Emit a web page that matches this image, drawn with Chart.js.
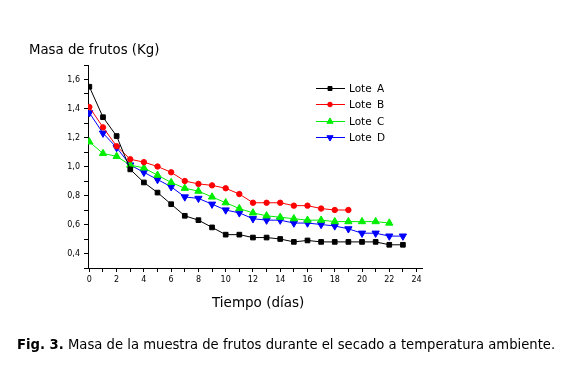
<!DOCTYPE html>
<html><head><meta charset="utf-8">
<script src="https://cdn.jsdelivr.net/npm/chart.js@4.4.0/dist/chart.umd.min.js"></script>
<style>
html,body{margin:0;padding:0;background:#fff;width:568px;height:372px;overflow:hidden;font-family:"DejaVu Sans",Verdana,sans-serif;}
#wrap{position:absolute;left:0;top:0;width:568px;height:372px;}
.t{position:absolute;white-space:nowrap;color:#000;}
</style></head>
<body>
<div id="wrap"><canvas id="c" width="568" height="372"></canvas></div>
<div class="t" id="ytitle" style="left:29px;top:42px;font-size:13.3px;">Masa de frutos (Kg)</div>
<div class="t" id="xtitle" style="left:212px;top:294px;font-size:13.5px;">Tiempo (días)</div>
<div class="t" id="cap" style="left:17px;top:337px;font-size:13.2px;"><b>Fig. 3.</b> Masa de la muestra de frutos durante el secado a temperatura ambiente.</div>
<script>
const days = [0,1,2,3,4,5,6,7,8,9,10,11,12,13,14,15,16,17,18,19,20,21,22,23];
const loteA = [1.55,1.34,1.21,0.98,0.89,0.82,0.74,0.66,0.63,0.58,0.53,0.53,0.51,0.51,0.50,0.48,0.49,0.48,0.48,0.48,0.48,0.48,0.46,0.46];
const loteB = [1.41,1.27,1.14,1.05,1.03,1.00,0.96,0.90,0.88,0.87,0.85,0.81,0.75,0.75,0.75,0.73,0.73,0.71,0.70,0.70];
const loteC = [1.17,1.09,1.07,1.01,0.99,0.94,0.89,0.85,0.83,0.79,0.75,0.71,0.68,0.66,0.65,0.64,0.63,0.63,0.62,0.62,0.62,0.62,0.61];
const loteD = [1.37,1.23,1.13,1.01,0.96,0.91,0.86,0.79,0.78,0.74,0.70,0.68,0.64,0.63,0.63,0.61,0.61,0.60,0.59,0.57,0.54,0.54,0.52,0.52];
const names = ['Lote A','Lote B','Lote C','Lote D'];
const xTickLabels = [0,2,4,6,8,10,12,14,16,18,20,22,24];
const yTickLabels = ['0,4','0,6','0,8','1,0','1,2','1,4','1,6'];

function pts(arr){ return arr.map((v,i)=>({x:days[i], y:v})); }
const styles = [
  {c:'#000000', ps:'rect', r:3.3, rot:0},
  {c:'#ff0000', ps:'circle', r:2.7, rot:0},
  {c:'#00ee00', ps:'triangle', r:4.2, rot:0},
  {c:'#0000ff', ps:'triangle', r:4.2, rot:180}
];
const series = [loteA,loteB,loteC,loteD];
const datasets = series.map((s,i)=>({
  label: names[i], data: pts(s),
  borderColor: styles[i].c, backgroundColor: styles[i].c,
  borderWidth: 1, pointStyle: styles[i].ps, pointRadius: styles[i].r,
  pointRotation: styles[i].rot, pointBorderWidth: 1, tension: 0
}));

const legendPlugin = {
  id:'legendBox',
  afterDraw(chart){
    const ctx = chart.ctx;
    const x0 = 316, x1 = 345, xm = 330, ys = [88,104,121,137];
    ctx.save();
    datasets.forEach((d,i)=>{
      const y = ys[i];
      ctx.strokeStyle = d.borderColor; ctx.lineWidth = 1;
      ctx.beginPath(); ctx.moveTo(x0,y+0.5); ctx.lineTo(x1,y+0.5); ctx.stroke();
      ctx.fillStyle = d.backgroundColor;
      Chart.helpers.drawPoint(ctx, {pointStyle:d.pointStyle, radius:d.pointRadius*0.85, rotation:d.pointRotation, borderWidth:1}, xm, y+0.5);
      ctx.fillStyle = '#000'; ctx.font = '10.5px "DejaVu Sans", Verdana, sans-serif';
      ctx.textBaseline = 'middle'; ctx.textAlign = 'left';
      ctx.fillText(d.label.replace(' ', '\u2002'), 349, y+1);
    });
    ctx.restore();
  }
};

new Chart(document.getElementById('c'), {
  type:'line',
  data:{datasets},
  options:{
    responsive:false, animation:false,
    layout:{padding:{left:57,top:65,right:146,bottom:74}},
    plugins:{legend:{display:false}, tooltip:{enabled:false}},
    scales:{
      x:{type:'linear', min:-0.1, max:24.4,
        afterFit(s){ s.height = 30; },
        afterBuildTicks(s){ s.ticks = []; for(let v=0; v<=24; v++) s.ticks.push({value:v}); },
        ticks:{color:'#000', font:{size:8, family:'"DejaVu Sans", Verdana, sans-serif'}, padding:3, maxRotation:0, autoSkip:false,
          callback:(v)=> xTickLabels.includes(v) ? String(v) : ''},
        grid:{drawOnChartArea:false, drawTicks:true, tickLength:4, color:'#000'},
        border:{display:true, color:'#000', width:1}
      },
      y:{type:'linear', min:0.3, max:1.7,
        afterFit(s){ s.width = 31; },
        afterBuildTicks(s){ s.ticks = []; for(let k=3; k<=17; k++) s.ticks.push({value:k/10}); },
        ticks:{color:'#000', font:{size:8, family:'"DejaVu Sans", Verdana, sans-serif'}, padding:4, autoSkip:false,
          callback:(v)=>{ const k = Math.round(v*10); if(k%2===0 && k>=4 && k<=16) return yTickLabels[(k-4)/2]; return ''; }},
        grid:{drawOnChartArea:false, drawTicks:true, tickLength:4, color:'#000'},
        border:{display:true, color:'#000', width:1}
      }
    }
  },
  plugins:[legendPlugin]
});
</script>
</body></html>
